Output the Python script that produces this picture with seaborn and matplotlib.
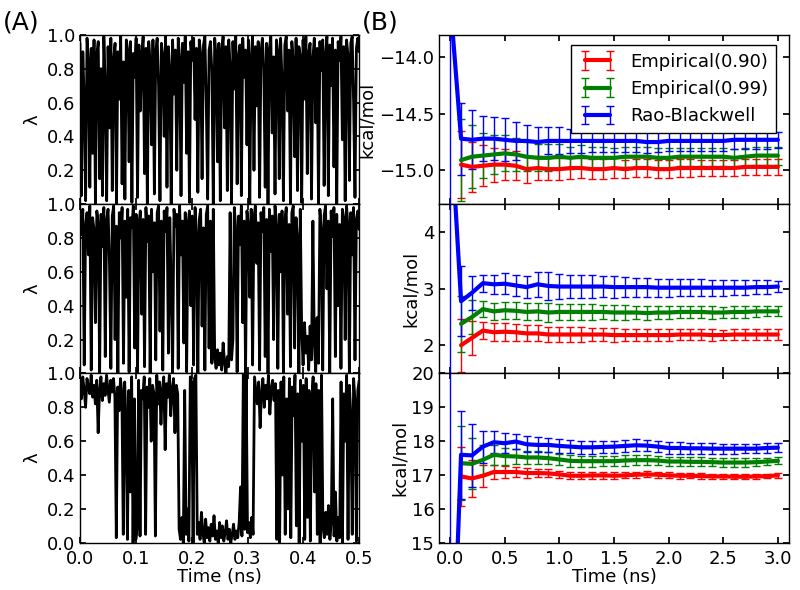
import numpy as np
import matplotlib
matplotlib.use('Agg')
import matplotlib.pyplot as plt
import seaborn as sns

sns.set_theme(style='ticks', rc={
    'xtick.direction': 'in', 'ytick.direction': 'in',
    'xtick.top': True, 'ytick.right': True,
    'xtick.major.size': 4, 'ytick.major.size': 4,
    'axes.edgecolor': 'black', 'axes.linewidth': 1.0,
    'xtick.color': 'black', 'ytick.color': 'black',
    'text.color': 'black', 'axes.labelcolor': 'black',
})
plt.rcParams['font.family'] = ['DejaVu Sans']
plt.rcParams['font.size'] = 13

# (A) lambda traces (0 to 0.5 ns)
lambda_top = [
    0.95, 0.05, 0.9, 0.6, 0.02, 0.98, 0.85, 0.1, 0.92, 0.3, 0.97, 0.0, 0.88, 0.96, 0.15, 0.8, 0.05, 0.99, 0.7, 0.02,
    0.93, 0.45, 0.98, 0.08, 0.86, 0.95, 0.0, 0.9, 0.62, 0.99, 0.12, 0.84, 0.03, 0.97, 0.91, 0.25, 0.96, 0.01, 0.89, 0.75,
    0.98, 0.04, 0.94, 0.55, 0.87, 0.99, 0.18, 0.92, 0.0, 0.96, 0.83, 0.35, 0.97, 0.06, 0.9, 0.98, 0.7, 0.02, 0.95, 0.88,
    0.4, 0.99, 0.1, 0.93, 0.8, 0.0, 0.97, 0.65, 0.91, 0.2, 0.98, 0.86, 0.05, 0.95, 0.72, 0.99, 0.3, 0.9, 0.01, 0.96,
    0.85, 0.98, 0.5, 0.92, 0.07, 0.97, 0.89, 0.15, 0.94, 0.99, 0.6, 0.03, 0.91, 0.96, 0.78, 0.0, 0.98, 0.87, 0.25, 0.95,
    0.02, 0.9, 0.99, 0.45, 0.93, 0.08, 0.97, 0.82, 0.0, 0.96, 0.68, 0.99, 0.12, 0.88, 0.94, 0.05, 0.98, 0.75, 0.91, 0.35,
    0.97, 0.0, 0.86, 0.99, 0.2, 0.93, 0.58, 0.96, 0.04, 0.9, 0.98, 0.8, 0.1, 0.95, 0.0, 0.92, 0.99, 0.42, 0.87, 0.06,
    0.97, 0.9, 0.15, 0.98, 0.73, 0.02, 0.94, 0.99, 0.55, 0.91, 0.0, 0.96, 0.84, 0.28, 0.98, 0.08, 0.93, 0.88, 0.01, 0.97,
    0.62, 0.99, 0.18, 0.9, 0.95, 0.03, 0.86, 0.98, 0.48, 0.92, 0.0, 0.96, 0.79, 0.97, 0.11, 0.89, 0.99, 0.05, 0.94, 0.7,
    0.98, 0.22, 0.91, 0.0, 0.96, 0.85, 0.99, 0.38, 0.93, 0.02, 0.97, 0.88, 0.14, 0.95, 0.99, 0.6, 0.04, 0.92, 0.98, 0.9,
]
lambda_mid = [
    0.9, 0.82, 0.97, 0.05, 0.88, 0.95, 0.7, 0.99, 0.02, 0.92, 0.85, 0.3, 0.96, 0.89, 0.0, 0.94, 0.75, 0.98, 0.1, 0.91,
    0.97, 0.65, 0.03, 0.93, 0.99, 0.2, 0.87, 0.0, 0.95, 0.8, 0.98, 0.06, 0.9, 0.45, 0.97, 0.01, 0.92, 0.86, 0.99, 0.15,
    0.94, 0.0, 0.88, 0.96, 0.35, 0.91, 0.04, 0.98, 0.78, 0.93, 0.0, 0.97, 0.6, 0.89, 0.08, 0.95, 0.99, 0.25, 0.9, 0.02,
    0.96, 0.84, 0.98, 0.12, 0.92, 0.5, 0.0, 0.97, 0.87, 0.94, 0.03, 0.99, 0.7, 0.9, 0.18, 0.95, 0.01, 0.88, 0.96, 0.4,
    0.93, 0.05, 0.98, 0.82, 0.0, 0.91, 0.97, 0.28, 0.86, 0.02, 0.94, 0.99, 0.15, 0.9, 0.06, 0.97, 0.1, 0.03, 0.14, 0.05,
    0.12, 0.02, 0.18, 0.07, 0.0, 0.1, 0.04, 0.95, 0.08, 0.2,
    0.98, 0.85, 0.01, 0.93, 0.76, 0.99, 0.3, 0.9, 0.0, 0.96, 0.88, 0.45, 0.97, 0.05, 0.92, 0.99, 0.65, 0.89, 0.02, 0.95,
    0.84, 0.98, 0.1, 0.91, 0.0, 0.97, 0.72, 0.93, 0.2, 0.99, 0.87, 0.03, 0.94, 0.6, 0.96, 0.0, 0.9, 0.98, 0.35, 0.88,
    0.04, 0.95, 0.99, 0.15, 0.92, 0.8, 0.0, 0.97, 0.25, 0.05, 0.3, 0.12, 0.22, 0.02, 0.28, 0.08, 0.9, 0.18, 0.01, 0.33,
    0.06, 0.97, 0.85, 0.02, 0.93, 0.99, 0.5, 0.9, 0.0, 0.96, 0.81, 0.98, 0.1, 0.94, 0.4, 0.88, 0.03, 0.97, 0.92, 0.2,
    0.99, 0.86, 0.0, 0.95, 0.7, 0.98, 0.08, 0.91, 0.96, 0.85,
]
lambda_bot = [
    0.95, 0.85, 0.98, 0.9, 0.8, 0.97, 0.92, 0.88, 0.99, 0.86, 0.93, 0.82, 0.96, 0.65, 0.9, 0.98, 0.84, 0.94, 0.87, 0.99,
    0.91, 0.83, 0.96, 0.89, 0.97, 0.86, 0.03, 0.92, 0.78, 0.97, 0.88,
    0.05, 0.95, 0.7, 0.02, 0.9, 0.3, 0.98, 0.0, 0.85, 0.02, 0.1, 0.96, 0.04, 0.9,
    0.85, 0.98, 0.05, 0.92, 0.8, 0.97, 0.6, 0.93, 0.88, 0.04, 0.99, 0.82, 0.95, 0.7, 0.9, 0.98, 0.55, 0.94, 0.86, 0.99,
    0.75, 0.91, 0.97, 0.65, 0.93, 0.88,
    0.08, 0.02, 0.15, 0.0, 0.9, 0.05, 0.2, 0.01, 0.98, 0.95, 0.0, 0.97, 0.99,
    0.05, 0.12, 0.02, 0.18, 0.06, 0.0, 0.14, 0.03, 0.09, 0.01, 0.11, 0.04, 0.16, 0.02, 0.07, 0.0, 0.12, 0.03, 0.1, 0.01,
    0.06, 0.13, 0.02, 0.08, 0.0, 0.05, 0.11, 0.02, 0.07, 0.03, 0.12, 0.33,
    0.04, 1.0, 0.08, 0.99, 0.06, 0.12, 0.03, 0.15, 0.05,
    0.98, 0.9, 0.82, 0.95, 0.68, 0.88, 0.97, 0.8, 0.93, 0.85, 0.99, 0.76, 0.91, 0.96, 0.84, 0.94,
    0.02, 0.9, 0.0, 0.95, 0.4, 0.98, 0.05, 0.85, 0.2, 0.97, 0.03, 0.92, 0.75, 0.99, 0.1, 0.88, 0.0, 0.96, 0.6, 0.93,
    0.02, 0.97, 0.15, 0.9, 0.01, 0.85, 0.98, 0.3, 0.94, 0.05, 0.9, 0.0,
    0.99, 0.1, 0.03, 0.18, 0.05, 0.22, 0.02, 0.12, 0.85, 0.04, 0.3, 0.01, 0.15, 0.03,
    0.95, 0.0, 0.88, 0.6, 0.99, 0.02, 0.93, 0.75, 0.05, 0.97, 0.84, 0.01, 0.9, 0.96,
]

# (B) free energy estimates vs simulation time
t_emp = [round(0.1 * k, 1) for k in range(1, 31)]
t_rb = [0.0] + t_emp

top_emp90 = [-14.95, -14.97, -14.96, -14.95, -14.95, -14.96, -14.99, -14.98, -14.99, -14.99, -14.98, -14.98, -14.99, -14.99, -14.98,
             -14.99, -14.98, -14.98, -14.99, -14.99, -14.98, -14.98, -14.98, -14.98, -14.98, -14.98, -14.97, -14.97, -14.97, -14.97]
top_emp90_err = [0.30, 0.22, 0.18, 0.15, 0.14, 0.13, 0.12, 0.11, 0.1, 0.1, 0.1, 0.09, 0.09, 0.09, 0.09,
                 0.08, 0.08, 0.08, 0.08, 0.08, 0.08, 0.08, 0.07, 0.07, 0.07, 0.07, 0.07, 0.07, 0.07, 0.07]
top_emp99 = [-14.91, -14.88, -14.87, -14.86, -14.85, -14.86, -14.88, -14.89, -14.89, -14.88, -14.89, -14.88, -14.89, -14.89, -14.89,
             -14.88, -14.88, -14.88, -14.89, -14.89, -14.88, -14.88, -14.88, -14.88, -14.88, -14.89, -14.88, -14.87, -14.87, -14.87]
top_emp99_err = [0.36, 0.28, 0.2, 0.17, 0.16, 0.15, 0.13, 0.12, 0.12, 0.11, 0.1, 0.1, 0.1, 0.1, 0.09,
                 0.09, 0.09, 0.09, 0.09, 0.09, 0.08, 0.08, 0.08, 0.08, 0.08, 0.08, 0.08, 0.08, 0.08, 0.08]
top_rb = [-13.49, -14.72, -14.73, -14.72, -14.72, -14.73, -14.74, -14.74, -14.75, -14.74, -14.74, -14.74, -14.74, -14.74, -14.74, -14.74,
          -14.74, -14.74, -14.75, -14.75, -14.74, -14.74, -14.74, -14.74, -14.74, -14.74, -14.73, -14.73, -14.73, -14.73, -14.73]
top_rb_err = [3.0, 0.32, 0.26, 0.2, 0.19, 0.19, 0.17, 0.14, 0.13, 0.12, 0.12, 0.11, 0.11, 0.1, 0.1, 0.1,
              0.1, 0.1, 0.1, 0.09, 0.09, 0.09, 0.09, 0.09, 0.09, 0.09, 0.08, 0.08, 0.08, 0.08, 0.07]

mid_emp90 = [2.0, 2.13, 2.26, 2.23, 2.24, 2.23, 2.21, 2.21, 2.19, 2.19, 2.19, 2.19, 2.19, 2.19, 2.18,
             2.18, 2.18, 2.18, 2.18, 2.18, 2.19, 2.19, 2.19, 2.18, 2.18, 2.19, 2.19, 2.19, 2.19, 2.19]
mid_emp90_err = [0.47, 0.3, 0.15, 0.16, 0.16, 0.15, 0.14, 0.14, 0.13, 0.13, 0.13, 0.13, 0.12, 0.12, 0.12,
                 0.11, 0.11, 0.11, 0.11, 0.11, 0.1, 0.1, 0.1, 0.1, 0.09, 0.09, 0.09, 0.09, 0.09, 0.09]
mid_emp99 = [2.38, 2.5, 2.64, 2.6, 2.62, 2.61, 2.59, 2.6, 2.58, 2.59, 2.59, 2.59, 2.59, 2.59, 2.58,
             2.58, 2.58, 2.57, 2.58, 2.58, 2.59, 2.59, 2.59, 2.58, 2.58, 2.59, 2.59, 2.6, 2.6, 2.6]
mid_emp99_err = [0.5, 0.3, 0.14, 0.15, 0.15, 0.15, 0.15, 0.15, 0.16, 0.14, 0.14, 0.14, 0.14, 0.13, 0.13,
                 0.13, 0.12, 0.12, 0.12, 0.12, 0.11, 0.11, 0.11, 0.11, 0.1, 0.1, 0.1, 0.1, 0.09, 0.09]
mid_rb = [6.1, 2.78, 2.93, 3.1, 3.08, 3.09, 3.06, 3.03, 3.08, 3.05, 3.04, 3.04, 3.04, 3.04, 3.04, 3.03,
          3.03, 3.03, 3.03, 3.02, 3.02, 3.02, 3.02, 3.02, 3.02, 3.02, 3.02, 3.02, 3.03, 3.03, 3.04]
mid_rb_err = [8.0, 0.62, 0.3, 0.15, 0.17, 0.19, 0.19, 0.2, 0.22, 0.24, 0.22, 0.2, 0.2, 0.2, 0.19, 0.19,
              0.18, 0.17, 0.17, 0.16, 0.16, 0.15, 0.15, 0.15, 0.14, 0.14, 0.13, 0.13, 0.12, 0.12, 0.1]

bot_emp90 = [16.96, 16.9, 16.98, 17.09, 17.09, 17.09, 17.06, 17.06, 17.05, 17.02, 16.98, 16.98, 16.99, 16.99, 16.98,
             16.99, 17.01, 17.02, 17.01, 16.99, 16.98, 16.98, 16.97, 16.96, 16.96, 16.95, 16.95, 16.96, 16.97, 16.99]
bot_emp90_err = [0.86, 0.55, 0.32, 0.22, 0.18, 0.15, 0.14, 0.13, 0.12, 0.11, 0.11, 0.11, 0.1, 0.1, 0.1,
                 0.09, 0.09, 0.09, 0.09, 0.09, 0.09, 0.08, 0.08, 0.08, 0.08, 0.08, 0.07, 0.07, 0.07, 0.07]
bot_emp99 = [17.35, 17.33, 17.45, 17.6, 17.56, 17.55, 17.52, 17.52, 17.5, 17.46, 17.42, 17.41, 17.41, 17.41, 17.41,
             17.43, 17.44, 17.44, 17.43, 17.4, 17.4, 17.39, 17.39, 17.38, 17.37, 17.37, 17.37, 17.38, 17.4, 17.42]
bot_emp99_err = [1.1, 0.75, 0.45, 0.3, 0.25, 0.22, 0.2, 0.19, 0.18, 0.17, 0.17, 0.16, 0.16, 0.15, 0.15,
                 0.15, 0.14, 0.14, 0.14, 0.13, 0.13, 0.13, 0.13, 0.12, 0.12, 0.12, 0.12, 0.11, 0.11, 0.1]
bot_rb = [8.9, 17.6, 17.58, 17.84, 17.97, 17.94, 17.99, 17.91, 17.89, 17.89, 17.86, 17.84, 17.82, 17.82, 17.83, 17.84,
          17.86, 17.88, 17.87, 17.84, 17.8, 17.8, 17.79, 17.79, 17.78, 17.78, 17.78, 17.78, 17.78, 17.8, 17.81]
bot_rb_err = [12.0, 1.3, 0.92, 0.47, 0.33, 0.3, 0.22, 0.23, 0.22, 0.2, 0.2, 0.2, 0.2, 0.19, 0.19, 0.18,
              0.18, 0.18, 0.17, 0.17, 0.17, 0.17, 0.16, 0.16, 0.16, 0.15, 0.15, 0.14, 0.14, 0.14, 0.13]

fig = plt.figure(figsize=(8, 5.9), dpi=100)
bottom, top = 0.08, 0.941
h = (top - bottom) / 3

traces = [lambda_top, lambda_mid, lambda_bot]
for i, lam in enumerate(traces):
    ax = fig.add_axes([0.1, top - (i + 1) * h, 0.349, h])
    t = np.linspace(0, 0.5, len(lam))
    sns.lineplot(x=t, y=lam, ax=ax, color='black', lw=2.0, estimator=None, sort=False)
    ax.set_xlim(0, 0.5)
    ax.set_ylim(0, 1)
    ax.set_xticks(np.arange(0, 0.51, 0.1))
    ax.set_yticks(np.arange(0, 1.01, 0.2))
    ax.set_ylabel('λ', fontsize=13)
    if i < 2:
        ax.set_xticklabels([])
        ax.set_yticklabels(['', '0.2', '0.4', '0.6', '0.8', '1.0'])
    else:
        ax.set_xlabel('Time (ns)', fontsize=13, labelpad=0)
    ax.tick_params(labelsize=13)
    ax.tick_params(axis='x', pad=5)

panels = [
    (top_emp90, top_emp90_err, top_emp99, top_emp99_err, top_rb, top_rb_err, (-15.3, -13.8), [-15.0, -14.5, -14.0]),
    (mid_emp90, mid_emp90_err, mid_emp99, mid_emp99_err, mid_rb, mid_rb_err, (1.5, 4.5), [2, 3, 4]),
    (bot_emp90, bot_emp90_err, bot_emp99, bot_emp99_err, bot_rb, bot_rb_err, (15, 20), [15, 16, 17, 18, 19, 20]),
]
for i, (e90, e90e, e99, e99e, rb, rbe, ylim, yt) in enumerate(panels):
    ax = fig.add_axes([0.549, top - (i + 1) * h, 0.437, h])
    kw = dict(lw=3, elinewidth=1, capsize=3, capthick=1)
    ax.errorbar(t_emp, e90, yerr=e90e, color='#ff0000', label='Empirical(0.90)', **kw)
    ax.errorbar(t_emp, e99, yerr=e99e, color='#007f00', label='Empirical(0.99)', **kw)
    ax.errorbar(t_rb, rb, yerr=rbe, color='#0000ff', label='Rao-Blackwell', **kw)
    ax.set_xlim(-0.1, 3.1)
    ax.set_ylim(*ylim)
    ax.set_xticks(np.arange(0, 3.01, 0.5))
    ax.set_yticks(yt)
    if i == 0:
        ax.set_yticklabels(['−15.0', '−14.5', '−14.0'])
        leg = ax.legend(loc='upper right', fontsize=13, fancybox=False, framealpha=1, numpoints=2,
                        edgecolor='black', handlelength=2.0, borderpad=0.45, labelspacing=0.5,
                        bbox_to_anchor=(0.99, 0.995))
        leg.get_frame().set_linewidth(1.0)
    if i < 2:
        ax.set_xticklabels([])
    else:
        ax.set_xlabel('Time (ns)', fontsize=13, labelpad=0)
    ax.set_ylabel('kcal/mol', fontsize=13, labelpad=2)
    ax.tick_params(labelsize=13)
    ax.tick_params(axis='x', pad=5)

fig.text(0.004, 0.942, '(A)', fontsize=18, va='bottom', ha='left')
fig.text(0.452, 0.942, '(B)', fontsize=18, va='bottom', ha='left')

fig.savefig('out.png', dpi=100, facecolor='white')
